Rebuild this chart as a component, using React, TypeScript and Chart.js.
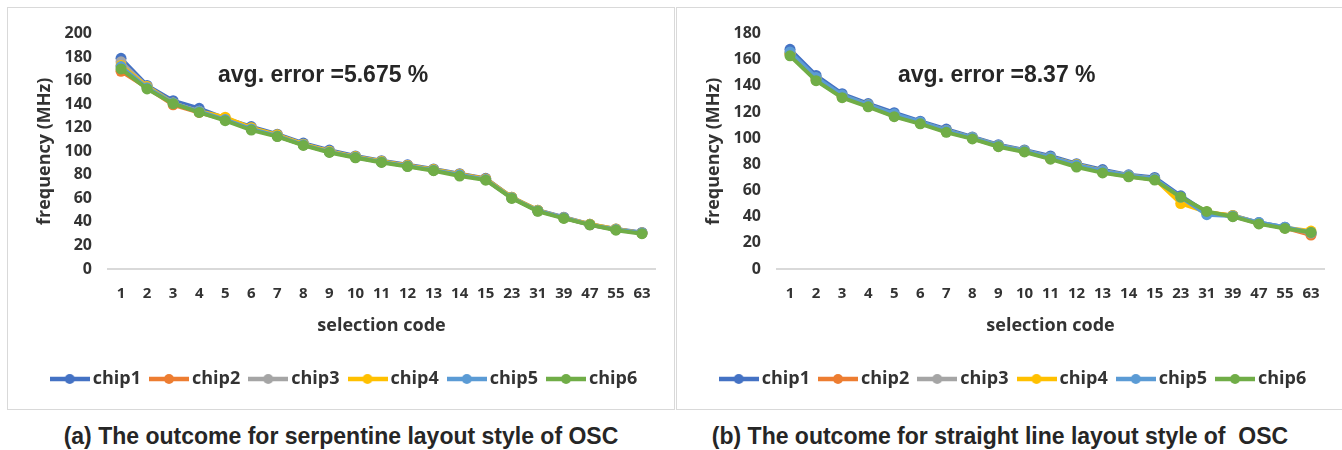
import React, { useEffect, useRef } from 'react';
import { Chart, registerables } from 'chart.js';

Chart.register(...registerables);

const selectionCodes = ['1', '2', '3', '4', '5', '6', '7', '8', '9', '10', '11', '12', '13', '14', '15', '23', '31', '39', '47', '55', '63'];
const chipNames = ['chip1', 'chip2', 'chip3', 'chip4', 'chip5', 'chip6'];
const chipColors = ['#4472C4', '#ED7D31', '#A5A5A5', '#FFC000', '#5B9BD5', '#70AD47'];

// (a) serpentine layout
const serpChip1 = [179, 156, 143, 136.5, 128, 121, 114.5, 107, 101, 96, 92, 88.5, 85, 81, 77, 61, 50, 44, 38, 34, 31];
const serpChip2 = [168, 154, 139.5, 133, 127, 119, 113, 105.5, 99.5, 95, 91, 88, 84, 80.5, 76.5, 60.5, 49.5, 43.5, 37.5, 33.5, 30.5];
const serpChip3 = [176, 155, 141, 134, 127, 119.5, 113.5, 106, 100, 95, 91, 87.5, 84, 80, 76, 60.5, 49.5, 43.5, 38, 33.5, 30.5];
const serpChip4 = [173, 155, 141, 134, 129, 120, 114, 106, 100, 95.5, 91.5, 88, 84.5, 80.5, 76.5, 61, 50, 43.5, 38, 34, 30.5];
const serpChip5 = [172, 154, 141, 134, 127, 119, 113, 105.5, 99.5, 95, 91, 87.5, 84, 80, 76, 60.5, 49.5, 43.5, 37.5, 33.5, 30.5];
const serpChip6 = [170, 153, 140.5, 133, 126, 118, 112.5, 105, 99, 94.5, 90.5, 87, 83.5, 79, 75.5, 60, 49, 43, 37.5, 33, 30];

// (b) straight line layout
const strChip1 = [168, 148, 134, 126.5, 119.5, 113, 107, 101, 95, 91, 86.5, 80.5, 76, 72, 70, 56, 43, 41, 35.5, 32, 27];
const strChip2 = [164, 144.5, 131.5, 124.5, 117, 111.5, 105, 100, 94, 90, 84.5, 79, 74, 71, 68.5, 54.5, 43.5, 40.5, 35, 31.5, 26];
const strChip3 = [165, 145.5, 132, 125, 118, 112, 105.5, 100, 94, 90, 85, 79, 74.5, 71, 68.5, 54, 43, 40.5, 35, 31.5, 27.5];
const strChip4 = [165, 146, 132.5, 125.5, 118, 112, 106, 100.5, 94.5, 90.5, 85.5, 80, 75, 71.5, 69, 50, 43.5, 41, 35, 31.5, 29];
const strChip5 = [166, 146.5, 133, 125.5, 118.5, 112.5, 106, 100.5, 94.5, 90.5, 85.5, 79.5, 75, 71.5, 69, 55, 41.5, 40.5, 35.5, 32, 28];
const strChip6 = [163, 144, 131, 124, 116.5, 111, 104.5, 99.5, 93.5, 89.5, 84, 78, 73.5, 70.5, 68, 55, 44, 40, 34.5, 31, 28];

const serpSeries = [serpChip1, serpChip2, serpChip3, serpChip4, serpChip5, serpChip6];
const strSeries = [strChip1, strChip2, strChip3, strChip4, strChip5, strChip6];

const yTitle = 'frequency (MHz)';
const xTitle = 'selection code';
const serpNote = 'avg. error =5.675 %';
const strNote = 'avg. error =8.37 %';
const serpCaption = '(a) The outcome for serpentine layout style of OSC';
const strCaption = '(b) The outcome for straight line layout style of  OSC';

const TEXT = '#333333';
const FONT = "'Open Sans', sans-serif";

function makeMarker(color: string) {
  const c = document.createElement('canvas');
  c.width = 40;
  c.height = 12;
  const ctx = c.getContext('2d')!;
  ctx.strokeStyle = color;
  ctx.lineWidth = 4.5;
  ctx.beginPath();
  ctx.moveTo(0, 6);
  ctx.lineTo(40, 6);
  ctx.stroke();
  ctx.fillStyle = color;
  ctx.beginPath();
  ctx.arc(20, 6, 5, 0, Math.PI * 2);
  ctx.fill();
  return c;
}

function ChartPanel({ series, yMax }: { series: number[][]; yMax: number }) {
  const ref = useRef<HTMLCanvasElement>(null);
  useEffect(() => {
    const markers = chipColors.map(makeMarker);
    const chart = new Chart(ref.current!, {
      type: 'line',
      data: {
        labels: selectionCodes,
        datasets: series.map((d, i) => ({
          label: chipNames[i],
          data: d,
          borderColor: chipColors[i],
          backgroundColor: chipColors[i],
          borderWidth: 4,
          pointRadius: 5.5,
          pointBorderWidth: 0,
          pointBackgroundColor: chipColors[i],
          order: 5 - i,
          tension: 0,
        })),
      },
      options: {
        responsive: false,
        animation: false,
        layout: { padding: { top: 17, right: 19, bottom: 11, left: 30 } },
        scales: {
          x: {
            type: 'category',
            offset: true,
            grid: { display: false, drawTicks: false },
            border: { display: true, color: '#d9d9d9', width: 2 },
            ticks: { color: TEXT, padding: 15.5, font: { family: FONT, size: 15, weight: 'bold' }, maxRotation: 0, autoSkip: false },
            title: { display: true, text: xTitle, color: TEXT, font: { family: FONT, size: 18, weight: 'bold' }, padding: { top: 0, bottom: 19 } },
            afterFit: (s: any) => { s.height = 87; },
          },
          y: {
            min: 0,
            max: yMax,
            grid: { display: false, drawTicks: false },
            border: { display: false },
            ticks: { stepSize: 20, color: TEXT, padding: 16, font: { family: FONT, size: 16, weight: 'bold' } },
            title: { display: true, text: yTitle, color: TEXT, font: { family: FONT, size: 18, weight: 'bold' }, padding: { top: -4, bottom: 0 } },
            afterFit: (s: any) => { s.width = 70; },
          },
        },
        plugins: {
          tooltip: { enabled: false },
          legend: {
            position: 'bottom',
            labels: {
              usePointStyle: true,
              pointStyleWidth: 28,
              padding: 14,
              color: TEXT,
              font: { family: FONT, size: 18, weight: 'bold' },
              sort: (a: any, b: any) => a.datasetIndex - b.datasetIndex,
              generateLabels: (ch: any) => {
                const items = Chart.defaults.plugins.legend.labels.generateLabels(ch);
                return items.map((it: any) => ({ ...it, pointStyle: markers[it.datasetIndex] }));
              },
            },
          },
        },
      } as any,
    });
    return () => chart.destroy();
  }, [series, yMax]);
  return <canvas ref={ref} width={666} height={401} style={{ position: 'absolute', left: 0, top: 0 }} />;
}

const noteStyle: React.CSSProperties = {
  position: 'absolute',
  fontFamily: "'Liberation Sans', Arial, sans-serif",
  fontWeight: 'bold',
  fontSize: 23,
  color: '#262626',
  whiteSpace: 'pre',
  lineHeight: '26px',
};

const captionStyle: React.CSSProperties = {
  position: 'absolute',
  fontFamily: "'Liberation Sans', Arial, sans-serif",
  fontWeight: 'bold',
  fontSize: 23,
  color: '#262626',
  whiteSpace: 'pre',
  textAlign: 'center',
  lineHeight: '26px',
};

export default function App() {
  return (
    <div style={{ position: 'absolute', left: 0, top: 0, width: 1342, height: 450, background: '#fff', overflow: 'hidden' }}>
      <div style={{ position: 'absolute', left: 7, top: 7, width: 666, height: 401, border: '1.5px solid #d9d9d9' }} />
      <div style={{ position: 'absolute', left: 676, top: 7, width: 680, height: 401, border: '1.5px solid #d9d9d9' }} />
      <div style={{ position: 'absolute', left: 8, top: 8, width: 666, height: 401 }}>
        <ChartPanel series={serpSeries} yMax={200} />
      </div>
      <div style={{ position: 'absolute', left: 677, top: 8, width: 666, height: 401 }}>
        <ChartPanel series={strSeries} yMax={180} />
      </div>
      <div style={{ ...noteStyle, left: 218, top: 61 }}>{serpNote}</div>
      <div style={{ ...noteStyle, left: 898, top: 61 }}>{strNote}</div>
      <div style={{ ...captionStyle, left: 0, width: 682, top: 423 }}>{serpCaption}</div>
      <div style={{ ...captionStyle, left: 660, width: 680, top: 423 }}>{strCaption}</div>
    </div>
  );
}
